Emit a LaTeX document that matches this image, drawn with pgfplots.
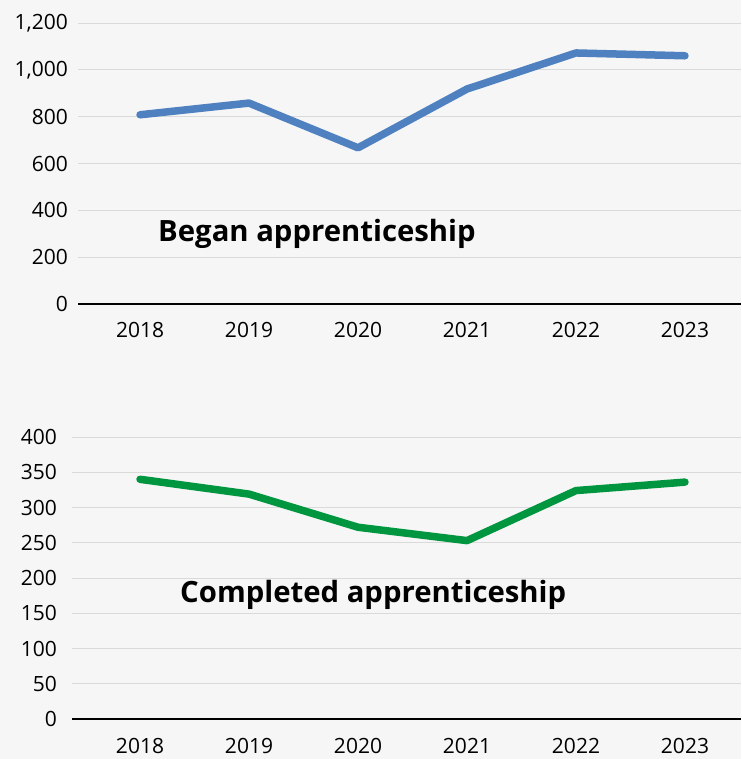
\documentclass[border=0pt]{standalone}
\usepackage{pgfplots}
\pgfplotsset{compat=1.18}
\usepackage{fontspec}
\setmainfont{Open Sans}
\definecolor{bgc}{RGB}{246,246,246}
\definecolor{gridc}{RGB}{218,218,218}
\definecolor{blueline}{RGB}{79,129,192}
\definecolor{greenline}{RGB}{0,150,64}
\begin{document}
\begin{tikzpicture}[x=1pt,y=1pt]
\useasboundingbox (0,0) rectangle (741,759);
\fill[bgc] (0,0) rectangle (741,759);
\pgfplotsset{
  common/.style={
    scale only axis,
    anchor=south west,
    clip=false,
    axis line style={draw=none},
    major tick length=0pt,
    xtick={0,1,2,3,4,5},
    xticklabels={2018,2019,2020,2021,2022,2023},
    ymajorgrids,
    grid style={gridc, line width=0.9pt},
    tick label style={font=\fontsize{21}{25}\selectfont, inner sep=0pt},
    /pgf/number format/assume math mode=true,
    /pgf/number format/1000 sep={,},
    scaled y ticks=false,
    xticklabel style={anchor=north},
    yticklabel style={anchor=east},
  }
}
% Top panel
\begin{axis}[common,
  at={(78pt,455pt)}, width=663pt, height=281pt,
  xmin=-0.569, xmax=5.514,
  ymin=0, ymax=1200, ytick={0,200,...,1200},
  xticklabel style={yshift=-18pt},
  yticklabel style={xshift=-10pt},
]
\draw[black, line width=1.3pt] (rel axis cs:0,0) -- (rel axis cs:1,0);
\addplot[blueline, line width=7.5pt, line join=round, line cap=round] coordinates {
  (0,808) (1,858) (2,667) (3,918) (4,1072) (5,1060)
};
\node[anchor=base west, inner sep=0pt, font=\bfseries\fontsize{29.3}{35}\selectfont] at (axis cs:0.165,269) {Began apprenticeship};
\end{axis}
% Bottom panel
\begin{axis}[common,
  at={(72pt,40pt)}, width=669pt, height=282pt,
  xmin=-0.624, xmax=5.514,
  ymin=0, ymax=400, ytick={0,50,...,400},
  xticklabel style={yshift=-19.5pt},
  yticklabel style={xshift=-15pt},
]
\draw[black, line width=1.3pt] (rel axis cs:0,0) -- (rel axis cs:1,0);
\addplot[greenline, line width=7.5pt, line join=round, line cap=round] coordinates {
  (0,340) (1,319) (2,272) (3,253) (4,324) (5,336)
};
\node[anchor=base west, inner sep=0pt, font=\bfseries\fontsize{29.3}{35}\selectfont] at (axis cs:0.367,165) {Completed apprenticeship};
\end{axis}
\end{tikzpicture}
\end{document}
